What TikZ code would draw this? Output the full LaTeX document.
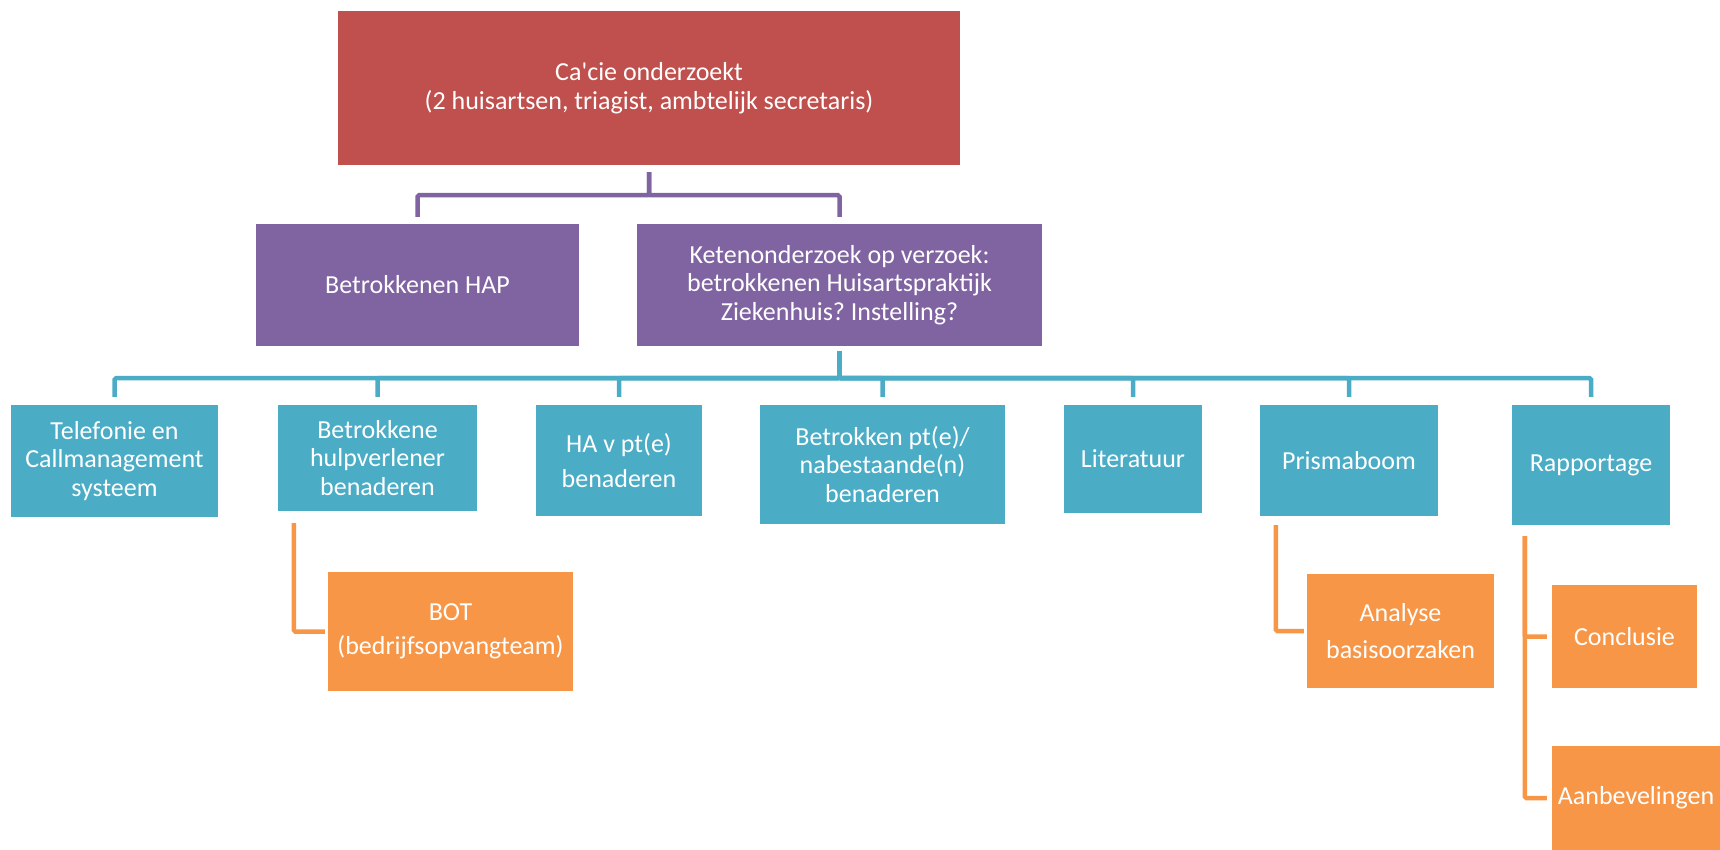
\documentclass[tikz,border=0pt]{standalone}
\usepackage{fontspec}
\setmainfont{Carlito}
\frenchspacing
\definecolor{cred}{HTML}{C0504D}
\definecolor{cpurple}{HTML}{8064A2}
\definecolor{cteal}{HTML}{4BACC6}
\definecolor{corange}{HTML}{F79646}
\begin{document}
\begin{tikzpicture}[x=1pt,y=-1pt,
    box/.style={text=white,align=center,inner sep=0pt,
        font=\fontsize{26}{28.5}\selectfont},
    link/.style={line width=4.5pt,rounded corners=1.5pt}]

            \useasboundingbox (0,0) rectangle (1720,850);
            \clip (0,0) rectangle (1720,850);

            % top
            \node[box,fill=cred,minimum width=622pt,minimum height=154pt] (cacie) at (649,88)
                {Ca\textquotesingle cie onderzoekt\\(2 huisartsen, triagist, ambtelijk secretaris)};

            % second row
            \node[box,fill=cpurple,minimum width=323pt,minimum height=122pt] (hap) at (417.5,285)
                {Betrokkenen HAP};
            \node[box,fill=cpurple,minimum width=405pt,minimum height=122pt] (keten) at (839.5,285)
                {Ketenonderzoek op verzoek:\\betrokkenen Huisartspraktijk\\Ziekenhuis? Instelling?};

            % third row
            \node[box,fill=cteal,minimum width=207pt,minimum height=112pt] (tel) at (114.5,461)
                {Telefonie en\\Callmanagement\\systeem};
            \node[box,fill=cteal,minimum width=199pt,minimum height=106pt] (hulp) at (377.5,458)
                {Betrokkene\\hulpverlener\\benaderen};
            \node[box,fill=cteal,minimum width=166pt,minimum height=111pt] (hapt) at (619,460.5)
                {HA v pt(e)\\[7pt]benaderen};
            \node[box,fill=cteal,minimum width=245pt,minimum height=119pt] (pte) at (882.5,464.5)
                {Betrokken pt(e)/\\nabestaande(n)\\benaderen};
            \node[box,fill=cteal,minimum width=138pt,minimum height=108pt] (lit) at (1133,459)
                {Literatuur};
            \node[box,fill=cteal,minimum width=178pt,minimum height=111pt] (prisma) at (1349,460.5)
                {Prismaboom};
            \node[box,fill=cteal,minimum width=158pt,minimum height=120pt] (rapp) at (1591,465)
                {Rapportage};

            % fourth row
            \node[box,fill=corange,minimum width=245pt,minimum height=119pt] (bot) at (450.5,631.5)
                {BOT\\[5pt](bedrijfsopvangteam)};
            \node[box,fill=corange,minimum width=187pt,minimum height=114pt] (analyse) at (1400.5,631)
                {Analyse\\[8pt]basisoorzaken};
            \node[box,fill=corange,minimum width=145pt,minimum height=103pt] (concl) at (1624.5,636.5)
                {Conclusie};
            \node[box,fill=corange,minimum width=168pt,minimum height=104pt] (aanb) at (1636,798)
                {Aanbevelingen};

            % connectors
            \foreach \n in {hap,keten}
                \draw[link,cpurple,shorten <=7pt,shorten >=7pt] (cacie.south) -- ++(0,30) -| (\n.north);
            \foreach \n in {tel,hulp,hapt,pte,lit,prisma,rapp}
                \draw[link,cteal,shorten <=5pt,shorten >=8pt] (keten.south) -- ++(0,32) -| (\n.north);
            \draw[link,corange,shorten >=3pt] ([xshift=16pt,yshift=-12pt]hulp.south west) |- (bot.west);
            \draw[link,corange,shorten >=3pt] ([xshift=16pt,yshift=-9pt]prisma.south west) |- (analyse.west);
            \foreach \n in {concl,aanb}
                \draw[link,corange,shorten >=5pt] ([xshift=13pt,yshift=-11pt]rapp.south west) |- (\n.west);
\end{tikzpicture}
\end{document}
